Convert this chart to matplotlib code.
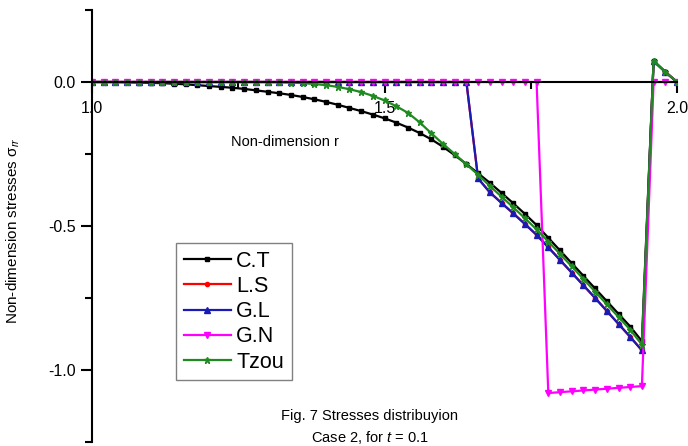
import numpy as np
import matplotlib

matplotlib.use("Agg")

import matplotlib.pyplot as plt
from matplotlib.ticker import MultipleLocator

plt.rcParams["font.family"] = ["Liberation Sans", "DejaVu Sans"]
plt.rcParams["mathtext.fontset"] = "custom"
plt.rcParams["mathtext.rm"] = "Liberation Sans"
plt.rcParams["mathtext.it"] = "Liberation Sans:italic"

# radial grid, step 0.02 from r = 1 to r = 2
r = np.linspace(1.0, 2.0, 51)

ct = [0.000, 0.000, 0.000, -0.001, -0.002, -0.003, -0.004, -0.006, -0.008, -0.011,
      -0.014, -0.017, -0.020, -0.024, -0.029, -0.034, -0.039, -0.045, -0.052, -0.060,
      -0.069, -0.079, -0.090, -0.101, -0.113, -0.126, -0.141, -0.158, -0.177, -0.199,
      -0.225, -0.254, -0.285, -0.317, -0.350, -0.385, -0.421, -0.458, -0.497, -0.541,
      -0.585, -0.629, -0.673, -0.717, -0.761, -0.805, -0.849, -0.900, 0.073, 0.035,
      0.000]

gl = [0.0] * 33 + [-0.335, -0.383, -0.420, -0.456, -0.493, -0.531, -0.574, -0.618,
                   -0.662, -0.706, -0.750, -0.795, -0.840, -0.885, -0.932, 0.073,
                   0.035, 0.000]

# L.S coincides with G.L
ls = list(gl)

gn = [0.0] * 39 + [-1.080, -1.077, -1.074, -1.071, -1.068, -1.065, -1.062, -1.059,
                   -1.056, 0.000, 0.000, 0.000]

tzou = [0.000] * 16 + [-0.001, -0.002, -0.004, -0.007, -0.011, -0.017, -0.025, -0.035,
                       -0.048, -0.064, -0.084, -0.107, -0.140, -0.178, -0.215, -0.250,
                       -0.286, -0.322, -0.361, -0.398, -0.435, -0.473, -0.512, -0.554,
                       -0.597, -0.640, -0.684, -0.728, -0.772, -0.816, -0.860, -0.912,
                       0.073, 0.035, 0.000]

labels = ["C.T", "L.S", "G.L", "G.N", "Tzou"]
x_ticks = [1.0, 1.5, 2.0]
y_ticks = [-1.0, -0.5, 0.0]

fig = plt.figure(figsize=(6.88, 4.46), dpi=100)
ax = fig.add_axes([92 / 688, 4 / 446, 585 / 688, 432 / 446])

ax.plot(r, ct, color="black", lw=1.6, marker="s", ms=3.5, label=labels[0])
ax.plot(r, ls, color="#ff0000", lw=1.6, marker="o", ms=3.0, label=labels[1])
ax.plot(r, gl, color="#1a1ab4", lw=1.6, marker="^", ms=5, label=labels[2])
ax.plot(r, gn, color="#ff00ff", lw=1.6, marker="v", ms=5, label=labels[3])
ax.plot(r, tzou, color="#1f8a1f", lw=1.6, marker="*", ms=5, label=labels[4])

ax.set_xlim(1.0, 2.0)
ax.set_ylim(-1.25, 0.25)

ax.spines["top"].set_visible(False)
ax.spines["right"].set_visible(False)
ax.spines["bottom"].set_position(("data", 0))
ax.spines["left"].set_linewidth(1.5)
ax.spines["bottom"].set_linewidth(1.5)

ax.set_xticks(x_ticks)
ax.set_xticklabels([f"{v:.1f}" for v in x_ticks])
ax.set_yticks(y_ticks)
ax.set_yticklabels([f"{v:.1f}" for v in y_ticks])
ax.xaxis.set_minor_locator(MultipleLocator(0.25))
ax.yaxis.set_minor_locator(MultipleLocator(0.25))
ax.tick_params(which="major", direction="out", length=8, width=1.5, labelsize=11.5)
ax.tick_params(which="minor", direction="out", length=5, width=1.5)
ax.tick_params(axis="x", which="major", pad=5.5)

ax.set_xlabel("Non-dimension r", fontsize=10.5)
ax.xaxis.set_label_coords(0.33, 0.71)
ax.set_ylabel("Non-dimension stresses σ$_{rr}$", fontsize=11)
ax.yaxis.set_label_coords(-0.12, 0.49)

leg = ax.legend(loc="upper left", bbox_to_anchor=(0.1436, 0.4606), borderaxespad=0,
                fontsize=15.5, numpoints=1, handlelength=2.2, handletextpad=0.25,
                labelspacing=0.2, borderpad=0.35, fancybox=False, framealpha=1)
leg.get_frame().set_edgecolor("#808080")
leg.get_frame().set_linewidth(1.0)

fig.text(370 / 688, 1 - 416 / 446, "Fig. 7 Stresses distribuyion", ha="center",
         va="center", fontsize=10.5)
fig.text(370 / 688, 1 - 437 / 446, "Case 2, for $t$ = 0.1", ha="center",
         va="center", fontsize=10.5)

fig.savefig("out.png", dpi=100)
